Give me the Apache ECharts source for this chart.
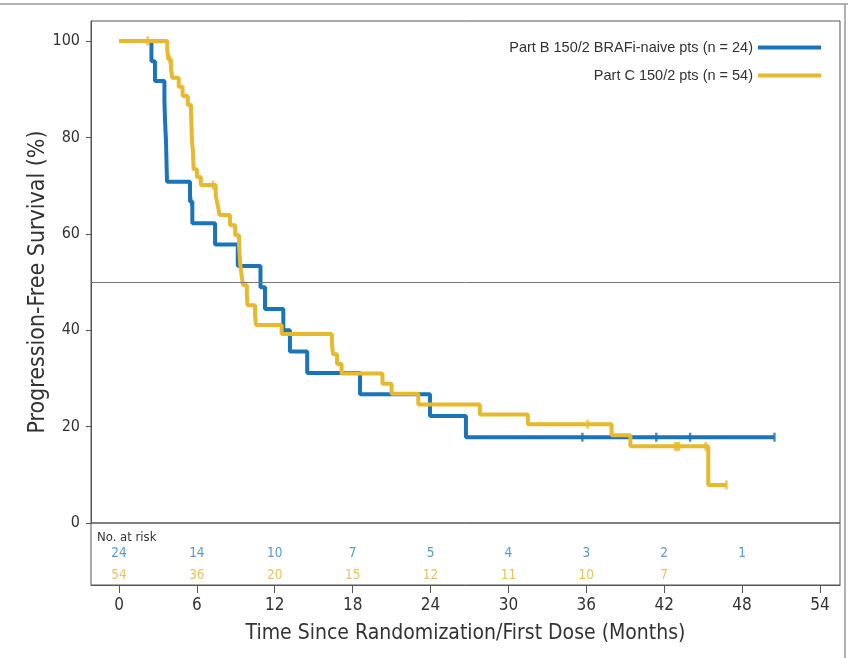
<!DOCTYPE html>
<html>
<head>
<meta charset="utf-8">
<script src="https://cdn.jsdelivr.net/npm/echarts@6/dist/echarts.min.js"></script>
<style>html,body{margin:0;padding:0;background:#fff}#c{width:848px;height:658px}</style>
</head>
<body>
<div id="c"></div>
<script>
// ---------------- data ----------------
const seriesNames = ['Part B 150/2 BRAFi-naive pts (n = 24)', 'Part C 150/2 pts (n = 54)'];

const blueTimes = [0, 2.5, 2.77, 3.5, 3.55, 3.62, 3.66, 3.7, 5.47, 5.65, 7.4, 9.15, 10.9, 11.25, 12.66, 13.17, 14.5, 18.57, 23.96, 26.73, 50.5];
const blueSurv  = [100, 95.8, 91.7, 87.5, 83.3, 79.2, 75.0, 70.8, 66.7, 62.2, 57.8, 53.3, 48.9, 44.4, 40.0, 35.6, 31.1, 26.7, 22.2, 17.8, 17.8];
const blueCensorT = [5.56, 35.7, 41.4, 44.0, 50.5];
const blueCensorS = [66.7, 17.8, 17.8, 17.8, 17.8];

const yellowTimes = [0, 3.72, 3.8, 4.0, 4.1, 4.6, 4.9, 5.3, 5.55, 5.58, 5.6, 5.62, 5.7, 5.72, 5.75, 6.0, 6.3, 7.45, 7.6, 7.75, 8.55, 8.95, 9.25, 9.3, 9.35, 9.45, 9.55, 9.85, 9.9, 10.48, 10.55, 12.53, 16.4, 16.5, 16.8, 17.15, 20.3, 21.0, 23.06, 27.8, 31.5, 37.95, 39.4, 45.4, 46.8];
const yellowSurv  = [100, 98.1, 96.2, 94.3, 92.4, 90.5, 88.6, 86.7, 84.8, 82.9, 81.0, 79.1, 77.2, 75.3, 73.4, 71.8, 70.1, 68.0, 66.0, 63.9, 61.8, 59.7, 57.6, 55.5, 53.4, 51.3, 49.4, 47.3, 45.2, 43.2, 41.1, 39.2, 37.1, 35.0, 33.0, 31.0, 28.9, 26.8, 24.6, 22.5, 20.5, 18.2, 15.9, 7.9, 7.9];
const yellowCensorT = [2.2, 3.9, 7.25, 36.1, 42.85, 43.0, 43.15, 45.2, 46.8];
const yellowCensorS = [100, 96.2, 70.1, 20.5, 15.9, 15.9, 15.9, 15.9, 7.9];

const riskTimes = [0, 6, 12, 18, 24, 30, 36, 42, 48];
const riskBlue = [24, 14, 10, 7, 5, 4, 3, 2, 1];
const riskYellow = [54, 36, 20, 15, 12, 11, 10, 7];

const xTicks = [0, 6, 12, 18, 24, 30, 36, 42, 48, 54];
const yTicks = [0, 20, 40, 60, 80, 100];

// ---------------- style ----------------
const BLUE = '#1b74ba';
const YELLOW = '#e7b92e';
const TXT = '#333';
const FONT = "'DejaVu Sans Condensed', 'Liberation Sans', sans-serif";
const XMIN = -2.157, XMAX = 55.55;
const ROW_B = 30, ROW_C = 52;

const zip = (a, b) => a.map((v, i) => [v, b[i]]);

const chart = echarts.init(document.getElementById('c'), null, {renderer: 'canvas'});

const censorStyle = (color) => ({
  type: 'scatter', symbol: 'rect', symbolSize: [2.5, 9],
  itemStyle: {color: color}, silent: true, z: 4
});

chart.setOption({
  animation: false,
  textStyle: {fontFamily: FONT},
  grid: [
    {left: 91, top: 21, width: 749, height: 502, show: true, borderColor: '#555', borderWidth: 1},
    {left: 91, top: 523, width: 749, height: 62, show: true, borderColor: '#555', borderWidth: 1}
  ],
  xAxis: [
    {gridIndex: 0, type: 'value', min: XMIN, max: XMAX, axisLine: {show: false, onZero: false}, axisTick: {show: false}, axisLabel: {show: false}, splitLine: {show: false}},
    {gridIndex: 1, type: 'value', min: XMIN, max: XMAX, position: 'bottom',
      axisLine: {show: true, onZero: false, lineStyle: {color: '#555'}},
      axisTick: {show: true, customValues: xTicks, length: 8, lineStyle: {color: '#555'}},
      axisLabel: {show: true, customValues: xTicks, margin: 12, fontSize: 17, color: TXT, fontFamily: FONT},
      splitLine: {show: false},
      name: 'Time Since Randomization/First Dose (Months)', nameLocation: 'middle', nameGap: 38,
      nameTextStyle: {fontSize: 21, color: TXT, fontFamily: FONT}
    }
  ],
  yAxis: [
    {gridIndex: 0, type: 'value', min: 0, max: 104.15, position: 'left',
      axisLine: {show: true, onZero: false, lineStyle: {color: '#555'}},
      axisTick: {show: true, customValues: yTicks, length: 5, lineStyle: {color: '#555'}},
      axisLabel: {show: true, customValues: yTicks, margin: 11, fontSize: 16, color: TXT, fontFamily: FONT},
      splitLine: {show: false}
    },
    {gridIndex: 1, type: 'value', min: 0, max: 62, inverse: true, show: false, axisLine: {onZero: false}}
  ],
  legend: [
    {data: [seriesNames[0]], orient: 'horizontal', align: 'right', right: 22, top: 35, icon: 'rect', itemWidth: 63, itemHeight: 4,
      textStyle: {fontSize: 14.5, color: TXT, fontFamily: "'Liberation Sans', sans-serif"}},
    {data: [seriesNames[1]], orient: 'horizontal', align: 'right', right: 22, top: 63, icon: 'rect', itemWidth: 63, itemHeight: 4,
      textStyle: {fontSize: 14.5, color: TXT, fontFamily: "'Liberation Sans', sans-serif"}}
  ],
  graphic: [
    {type: 'text', left: 97, top: 531, style: {text: 'No. at risk', fontSize: 13, fill: TXT, fontFamily: FONT}},
    {type: 'text', x: 38, y: 282, rotation: Math.PI / 2, style: {text: 'Progression-Free Survival (%)', fontSize: 23, fill: TXT, fontFamily: FONT, align: 'center', verticalAlign: 'middle'}},
    {type: 'line', shape: {x1: 0, y1: 4, x2: 848, y2: 4}, style: {stroke: '#999', lineWidth: 1.5}},
    {type: 'line', shape: {x1: 845, y1: 4, x2: 845, y2: 658}, style: {stroke: '#999', lineWidth: 1.5}}
  ],
  series: [
    {name: seriesNames[0], type: 'line', xAxisIndex: 0, yAxisIndex: 0, step: 'end', showSymbol: false,
      data: zip(blueTimes, blueSurv), itemStyle: {color: BLUE}, lineStyle: {color: BLUE, width: 4}, z: 2,
      markLine: {silent: true, symbol: 'none', label: {show: false}, lineStyle: {color: '#777', width: 1, type: 'solid'},
        data: [{yAxis: 50}]}
    },
    {name: seriesNames[1], type: 'line', xAxisIndex: 0, yAxisIndex: 0, step: 'end', showSymbol: false,
      data: zip(yellowTimes, yellowSurv), itemStyle: {color: YELLOW}, lineStyle: {color: YELLOW, width: 4}, z: 3},
    Object.assign(censorStyle(BLUE), {xAxisIndex: 0, yAxisIndex: 0, data: zip(blueCensorT, blueCensorS)}),
    Object.assign(censorStyle(YELLOW), {xAxisIndex: 0, yAxisIndex: 0, data: zip(yellowCensorT, yellowCensorS)}),
    {type: 'scatter', xAxisIndex: 1, yAxisIndex: 1, symbolSize: 0, silent: true,
      data: riskTimes.slice(0, riskBlue.length).map((t, i) => [t, ROW_B, riskBlue[i]]),
      label: {show: true, position: 'inside', formatter: p => String(p.value[2]), color: '#2f7fc4', fontSize: 13.5, fontFamily: FONT}},
    {type: 'scatter', xAxisIndex: 1, yAxisIndex: 1, symbolSize: 0, silent: true,
      data: riskTimes.slice(0, riskYellow.length).map((t, i) => [t, ROW_C, riskYellow[i]]),
      label: {show: true, position: 'inside', formatter: p => String(p.value[2]), color: '#e3b43a', fontSize: 13.5, fontFamily: FONT}}
  ]
});
</script>
</body>
</html>
